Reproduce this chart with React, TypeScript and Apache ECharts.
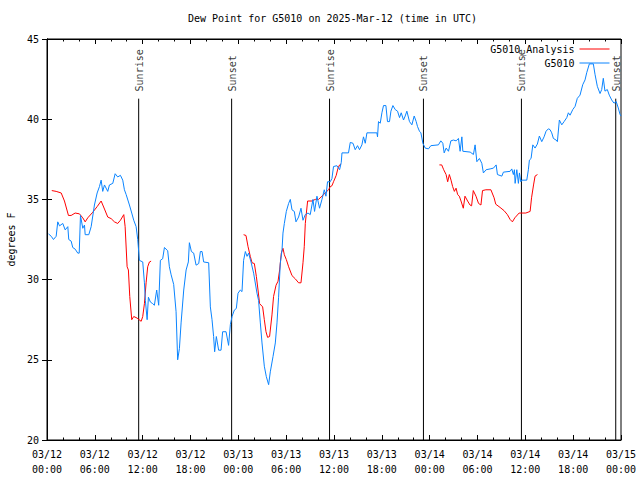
import React, { useEffect, useRef } from 'react';
import * as echarts from 'echarts';

const FONT = "'DejaVu Sans Mono', monospace";

const TITLE = 'Dew Point for G5010 on 2025-Mar-12 (time in UTC)';
const Y_NAME = 'degrees F';
const NAME_ANALYSIS = 'G5010_Analysis';
const NAME_OBS = 'G5010';

// hours since 2025-03-12 00:00 UTC
const BLUE_H = [
  0.19, 0.53, 0.81, 1.15, 1.35, 1.57, 1.98, 2.28, 2.61, 2.73, 3.03, 3.23, 3.53, 3.86, 4.04, 4.2, 4.49, 4.7, 4.79, 5.24,
  5.54, 5.95, 6.29, 6.58, 6.79, 6.99, 7.21, 7.62, 7.83, 8.25, 8.55, 8.87, 9.21, 9.5, 9.71, 9.93, 10.34, 10.63, 10.88, 11.18,
  11.38, 11.59, 12.01, 12.22, 12.34, 12.56, 12.72, 12.97, 13.26, 13.47, 13.76, 14.01, 14.22, 14.51, 14.73, 15.14, 15.35, 15.57, 15.89, 16.19,
  16.39, 16.61, 16.82, 17.15, 17.45, 17.73, 17.86, 18.11, 18.4, 18.7, 19.03, 19.24, 19.45, 19.65, 20.28, 20.49, 20.7, 20.9, 21.03, 21.24,
  21.53, 21.83, 22.03, 22.46, 22.78, 23.0, 23.21, 23.5, 23.75, 23.96, 24.25, 24.46, 24.66, 24.88, 25.09, 25.29, 25.59, 25.92, 26.34, 26.54,
  26.76, 26.97, 27.26, 27.51, 27.8, 28.01, 28.35, 28.64, 28.85, 29.05, 29.26, 29.48, 29.6, 29.77, 30.02, 30.31, 30.52, 30.73, 31.02, 31.23,
  31.56, 31.86, 32.11, 32.4, 32.74, 33.02, 33.36, 33.56, 33.86, 34.19, 34.49, 34.78, 34.99, 35.19, 35.53, 35.74, 35.94, 36.37, 36.7, 36.91,
  37.0, 37.82, 38.04, 38.38, 38.66, 38.95, 39.2, 39.5, 39.7, 39.92, 40.13, 41.38, 41.46, 41.58, 41.8, 42.01, 42.21, 42.51, 42.71, 42.96,
  43.14, 43.39, 43.68, 43.97, 44.22, 44.43, 44.72, 44.93, 45.14, 45.47, 45.77, 46.06, 46.31, 46.47, 46.72, 46.9, 47.15, 47.44, 47.85, 48.15,
  49.1, 49.4, 49.65, 49.82, 50.07, 50.36, 50.66, 50.98, 51.32, 51.61, 51.82, 52.04, 52.16, 53.08, 53.49, 53.7, 53.92, 54.24, 54.54, 54.74,
  55.08, 55.58, 56.0, 56.34, 56.5, 57.05, 57.25, 58.09, 58.3, 58.5, 58.63, 58.72, 58.93, 59.13, 59.26, 59.43, 59.56, 60.18, 60.38, 60.51,
  60.72, 60.94, 61.22, 61.51, 61.76, 62.06, 62.35, 62.6, 62.89, 63.1, 63.31, 63.52, 63.86, 64.02, 64.27, 64.57, 64.86, 65.2, 65.4, 65.61,
  65.95, 66.24, 66.52, 66.86, 67.2, 67.49, 67.7, 68.03, 68.53, 68.74, 69.03, 69.37, 69.58, 69.78, 69.99, 70.28, 70.53, 70.83, 71.12, 71.4,
  71.66, 71.88, 72.0,
];
const BLUE_V = [
  32.85, 32.7, 32.5, 32.7, 33.6, 33.35, 33.5, 33.1, 33.3, 32.5, 32.4, 32.0, 31.9, 31.65, 31.65, 34.0, 33.2, 33.4, 32.8, 32.8,
  33.3, 34.65, 35.4, 35.8, 36.2, 35.5, 35.9, 35.5, 35.9, 36.0, 36.6, 36.4, 36.5, 36.2, 35.6, 35.3, 34.65, 34.15, 33.7, 33.3,
  32.5, 31.2, 31.1, 29.8, 28.7, 27.5, 28.9, 28.6, 28.5, 28.4, 29.35, 28.4, 31.2, 31.3, 32.0, 31.8, 30.8, 30.3, 29.7, 28.0,
  25.0, 25.7, 27.3, 29.35, 30.6, 31.1, 32.3, 31.75, 31.65, 30.9, 31.0, 31.75, 31.75, 31.1, 31.05, 28.3, 27.5, 26.45, 25.5, 26.45,
  25.6, 25.6, 26.75, 26.75, 25.9, 27.2, 27.7, 28.1, 28.2, 29.15, 29.35, 29.25, 31.2, 31.75, 31.45, 31.65, 31.1, 30.4, 29.15, 28.7,
  27.3, 26.05, 24.6, 23.95, 23.45, 24.25, 25.2, 26.05, 27.3, 28.9, 31.0, 31.85, 32.9, 33.5, 34.25, 34.75, 35.0, 34.35, 34.25, 33.6,
  33.9, 34.45, 33.7, 34.05, 34.15, 34.05, 35.0, 34.25, 35.2, 34.45, 35.0, 35.6, 35.2, 36.1, 36.1, 36.3, 37.05, 37.1, 36.85, 37.3,
  37.9, 37.9, 38.55, 38.5, 38.1, 38.35, 38.1, 38.4, 38.9, 38.5, 39.15, 39.15, 38.9, 39.85, 39.75, 40.4, 40.85, 40.85, 39.85, 39.85,
  40.5, 40.85, 40.6, 40.5, 40.1, 40.4, 39.95, 40.2, 40.5, 39.85, 39.65, 40.2, 39.85, 39.55, 39.25, 39.15, 38.5, 38.2, 38.15, 38.35,
  38.4, 38.65, 38.5, 37.9, 38.2, 38.0, 38.65, 38.7, 38.65, 38.8, 38.0, 38.9, 38.0, 37.95, 37.8, 38.4, 37.35, 37.55, 37.25, 36.65,
  36.85, 36.9, 36.95, 37.15, 36.55, 36.45, 36.7, 36.75, 36.9, 36.55, 36.85, 36.0, 36.85, 36.0, 36.65, 36.1, 36.2, 36.2, 36.85, 37.45,
  37.55, 38.4, 38.2, 38.45, 38.95, 38.6, 38.9, 39.25, 39.4, 39.35, 39.15, 38.8, 38.7, 38.6, 39.95, 39.65, 39.85, 40.1, 40.4, 40.25,
  40.6, 40.8, 41.3, 41.5, 42.15, 42.45, 42.9, 43.45, 43.45, 42.8, 42.05, 41.6, 41.85, 42.55, 41.75, 41.85, 41.5, 41.2, 41.0, 41.1,
  40.7, 40.3, 40.2,
];

const RED1_H = [
  0.6, 1.15, 1.78, 2.19, 2.69, 3.03, 3.53, 4.07, 4.49, 4.79, 5.11, 5.74, 6.29, 6.79, 7.21, 7.62, 8.05, 8.46, 8.87, 9.21,
  9.63, 9.8, 10.05, 10.21, 10.38, 10.63, 10.88, 11.3, 11.81, 12.01, 12.22, 12.43, 12.63, 12.85, 13.06,
];
const RED1_V = [
  35.55, 35.5, 35.4, 34.9, 34.0, 34.0, 34.15, 34.1, 33.85, 33.6, 33.85, 34.2, 34.55, 34.9, 34.4, 33.9, 33.8, 33.6, 33.5, 33.7,
  34.05, 33.3, 30.8, 30.6, 28.95, 27.5, 27.7, 27.6, 27.4, 27.7, 28.5, 29.8, 30.8, 31.1, 31.15,
];
const RED2_H = [
  24.66, 24.96, 25.22, 25.5, 25.72, 26.01, 26.26, 26.47, 26.67, 27.05, 27.26, 27.47, 27.67, 27.92, 28.22, 28.42, 28.73, 28.98, 29.18, 29.39,
  29.6, 29.77, 30.02, 30.31, 30.73, 31.14, 31.56, 31.86, 32.11, 32.27, 32.4, 32.69, 33.24, 33.65, 34.06, 34.49, 34.9, 35.32, 35.53, 35.74,
  35.94, 36.28, 36.5, 36.7, 36.87,
];
const RED2_V = [
  32.8, 32.75, 32.05, 31.45, 31.05, 31.0, 30.2, 29.35, 28.5, 28.3, 27.5, 26.75, 26.4, 26.45, 27.8, 28.95, 29.65, 29.9, 30.6, 31.65,
  31.95, 31.55, 31.25, 30.8, 30.25, 30.05, 29.8, 29.8, 31.05, 32.05, 33.5, 34.9, 34.9, 35.0, 35.0, 35.2, 35.4, 35.6, 35.8, 35.85,
  36.1, 36.5, 36.95, 37.15, 37.2,
];
const RED3_H = [
  49.22, 49.51, 49.76, 50.06, 50.26, 50.47, 50.68, 50.88, 51.1, 51.31, 51.51, 51.72, 51.93, 52.22, 52.43, 52.76, 53.06, 53.26, 53.47, 53.81,
  54.13, 54.43, 54.63, 55.05, 55.68, 56.08, 56.29, 56.83, 57.33, 57.75, 58.09, 58.38, 58.68, 59.22, 60.06, 60.6, 60.78, 61.03, 61.22, 61.52,
];
const RED3_V = [
  37.15, 37.15, 36.85, 36.55, 36.1, 36.55, 36.2, 35.8, 35.5, 35.7, 35.3, 35.2, 34.9, 34.45, 35.2, 34.9, 34.65, 34.6, 35.55, 35.2,
  34.75, 34.65, 35.55, 35.6, 35.6, 35.1, 34.7, 34.5, 34.3, 34.05, 33.75, 33.6, 33.85, 34.15, 34.15, 34.25, 35.1, 35.9, 36.45, 36.55,
];

const SUN_H = [11.5, 23.16, 35.44, 47.22, 59.51, 71.34];
const SUN_LABELS = ['Sunrise', 'Sunset', 'Sunrise', 'Sunset', 'Sunrise', 'Sunset'];
const SUN_LINE_TOP = 41.28;
const SUN_LABEL_Y = 41.7;

const X_MIN = 0;
const X_MAX = 72;
const X_STEP = 6;
const Y_MIN = 20;
const Y_MAX = 45;
const Y_STEP = 5;

const RED = '#ff0000';
const BLUE = '#0a84ff';

function xLabel(v: number): string {
  const day = 12 + Math.floor(v / 24);
  const hh = v % 24;
  return `03/${String(day).padStart(2, '0')}\n${String(hh).padStart(2, '0')}:00`;
}

export default function App() {
  const ref = useRef<HTMLDivElement>(null);
  useEffect(() => {
    const chart = echarts.init(ref.current!, null, { renderer: 'svg' });
    const zip = (h: number[], v: number[]) => h.map((x, i) => [x, v[i]]);
    const lineBase = {
      type: 'line' as const,
      symbol: 'none',
      smooth: false,
      silent: true,
    };
    const xAxisBase = {
      type: 'value' as const,
      min: X_MIN,
      max: X_MAX,
      interval: X_STEP,
      axisLine: { show: true, lineStyle: { color: '#000', width: 1 } },
      axisTick: { show: true, inside: true, length: 5, lineStyle: { color: '#000' } },
      minorTick: { show: true, splitNumber: 3, length: 2.5, lineStyle: { color: '#000' } },
      splitLine: { show: false },
      minorSplitLine: { show: false },
    };
    const yAxisBase = {
      type: 'value' as const,
      min: Y_MIN,
      max: Y_MAX,
      interval: Y_STEP,
      axisLine: { show: true, lineStyle: { color: '#000', width: 1 } },
      axisTick: { show: true, inside: true, length: 5, lineStyle: { color: '#000' } },
      splitLine: { show: false },
    };
    const option: any = {
      animation: false,
      backgroundColor: '#fff',
      title: {
        text: TITLE,
        left: 188,
        top: 13,
        padding: 0,
        textStyle: { fontFamily: FONT, fontSize: 10, fontWeight: 'normal', color: '#000' },
      },
      legend: {
        data: [NAME_ANALYSIS, NAME_OBS],
        orient: 'vertical',
        right: 30,
        top: 44,
        padding: 0,
        align: 'right',
        itemWidth: 30,
        itemHeight: 10,
        itemGap: 4,
        itemStyle: { opacity: 0 },
        lineStyle: { width: 1 },
        textStyle: { fontFamily: FONT, fontSize: 10, color: '#000' },
      },
      grid: {
        left: 47,
        right: 19,
        top: 39,
        bottom: 40,
        outerBoundsMode: 'none',
        containLabel: false,
        show: true,
        borderColor: '#000',
        borderWidth: 1,
        backgroundColor: 'transparent',
      },
      xAxis: [
        {
          ...xAxisBase,
          position: 'bottom',
          axisLabel: {
            formatter: xLabel,
            fontFamily: FONT,
            fontSize: 10,
            color: '#000',
            lineHeight: 15,
            margin: 7,
          },
        },
        {
          ...xAxisBase,
          position: 'top',
          axisLabel: { show: false },
        },
      ],
      yAxis: [
        {
          ...yAxisBase,
          position: 'left',
          name: Y_NAME,
          nameLocation: 'middle',
          nameGap: 31,
          nameTextStyle: { fontFamily: FONT, fontSize: 10, color: '#000' },
          axisLabel: { fontFamily: FONT, fontSize: 10, color: '#000', margin: 8 },
        },
        {
          ...yAxisBase,
          position: 'right',
          axisLabel: { show: false },
        },
      ],
      series: [
        ...SUN_H.map((h) => ({
          ...lineBase,
          name: 'sun',
          data: [[h, Y_MIN], [h, SUN_LINE_TOP]],
          lineStyle: { color: '#000', width: 1 },
          z: 1,
        })),
        {
          type: 'scatter',
          name: 'sunlabels',
          silent: true,
          symbolSize: 1,
          itemStyle: { color: 'rgba(0,0,0,0)' },
          data: SUN_H.map((h, i) => ({ value: [h, SUN_LABEL_Y], name: SUN_LABELS[i] })),
          label: {
            show: true,
            formatter: '{b}',
            position: [1, 0],
            rotate: 90,
            align: 'left',
            verticalAlign: 'middle',
            fontFamily: FONT,
            fontSize: 10,
            color: '#000',
          },
        },
        { ...lineBase, name: NAME_ANALYSIS, data: zip(RED1_H, RED1_V), lineStyle: { color: RED, width: 1 }, itemStyle: { color: RED }, z: 2 },
        { ...lineBase, name: NAME_ANALYSIS, data: zip(RED2_H, RED2_V), lineStyle: { color: RED, width: 1 }, itemStyle: { color: RED }, z: 2 },
        { ...lineBase, name: NAME_ANALYSIS, data: zip(RED3_H, RED3_V), lineStyle: { color: RED, width: 1 }, itemStyle: { color: RED }, z: 2 },
        { ...lineBase, name: NAME_OBS, data: zip(BLUE_H, BLUE_V), lineStyle: { color: BLUE, width: 1 }, itemStyle: { color: BLUE }, z: 3 },
      ],
    };
    chart.setOption(option);
    return () => chart.dispose();
  }, []);
  return <div ref={ref} style={{ position: 'fixed', left: 0, top: 0, width: 640, height: 480 }} />;
}
